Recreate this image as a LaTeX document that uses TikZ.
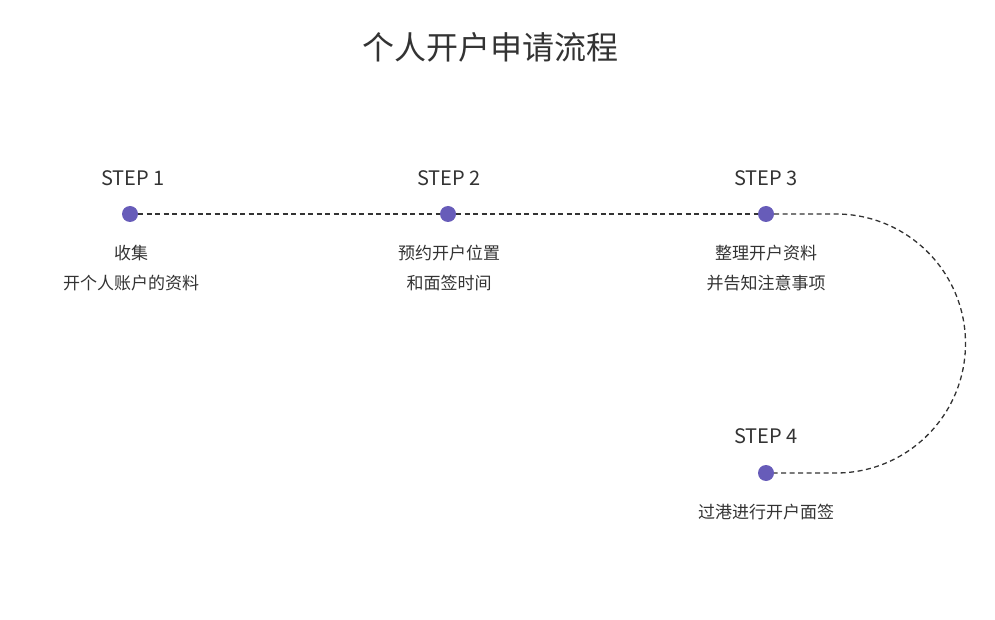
\documentclass[tikz,border=0pt]{standalone}
\usepackage{fontspec}
\setmainfont{Noto Sans CJK SC}
\definecolor{dotpurple}{HTML}{675CB9}
\definecolor{textgray}{HTML}{333333}
\tikzset{
  stepdot/.style={circle, fill=dotpurple, inner sep=0pt, minimum size=16pt},
  steplabel/.style={text=textgray, font=\fontsize{20}{24}\selectfont},
  desc/.style={text=textgray, font=\fontsize{17}{30}\selectfont, align=center},
  pathline/.style={textgray, dashed, line width=1.3pt, dash pattern=on 5pt off 3.5pt}
}
\begin{document}
\begin{tikzpicture}[x=1pt,y=1pt]
\useasboundingbox (0,0) rectangle (995,619);
\node[text=textgray, font=\fontsize{32}{38}\selectfont] (title) at (490,572) {个人开户申请流程};
% dots
\node[stepdot] (d1) at (130,405) {};
\node[stepdot] (d2) at (448,405) {};
\node[stepdot] (d3) at (766,405) {};
\node[stepdot] (d4) at (766,146) {};
\coordinate (c3) at (836,405);
% connectors
\begin{scope}[on background layer/.style={}]
\draw[pathline] (d1) -- (d2);
\draw[pathline] (d2) -- (d3);
\draw[pathline] (d3) -- (c3) arc[start angle=90, end angle=-90, radius=129.5] -- (d4);
\end{scope}
% labels
\node[steplabel] (s1) at (133,441) {STEP 1};
\node[steplabel] (s2) at (449,441) {STEP 2};
\node[steplabel] (s3) at (766,441) {STEP 3};
\node[steplabel] (s4) at (766,183) {STEP 4};
\node[desc] (t1) at (131,351) {收集\\开个人账户的资料};
\node[desc] (t2) at (449,351) {预约开户位置\\和面签时间};
\node[desc] (t3) at (766,351) {整理开户资料\\并告知注意事项};
\node[desc] (t4) at (766,107) {过港进行开户面签};
\end{tikzpicture}
\end{document}
